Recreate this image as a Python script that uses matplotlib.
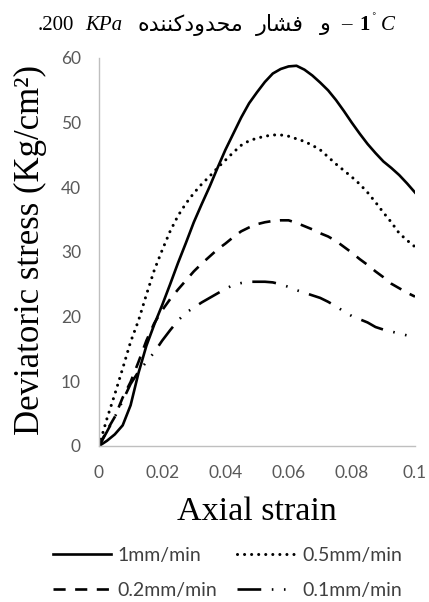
import matplotlib
matplotlib.use("Agg")
import matplotlib.pyplot as plt

# ── Data ─────────────────────────────────────────────────────────────
strain = [0, 0.0025, 0.005, 0.0075, 0.01, 0.0125, 0.015, 0.0175, 0.02, 0.0225,
          0.025, 0.0275, 0.03, 0.0325, 0.035, 0.0375, 0.04, 0.0425, 0.045, 0.0475,
          0.05, 0.0525, 0.055, 0.0575, 0.06, 0.0625, 0.065, 0.0675, 0.07, 0.0725,
          0.075, 0.0775, 0.08, 0.0825, 0.085, 0.0875, 0.09, 0.0925, 0.095, 0.0975, 0.1]

stress_1mm = [0, 0.8, 1.8, 3.2, 6.3, 11.3, 15.5, 18.8, 21.8, 25,
              28.3, 31.4, 34.6, 37.4, 40.1, 43, 45.8, 48.3, 50.8, 53,
              54.7, 56.3, 57.6, 58.3, 58.7, 58.8, 58.2, 57.3, 56.2, 55,
              53.5, 51.8, 50, 48.3, 46.7, 45.3, 44, 43, 41.9, 40.6, 39.2]
stress_05mm = [0, 4.2, 8, 12, 16.1, 19.4, 23.4, 27.2, 30.3, 33.2,
               35.6, 37.5, 39.1, 40.5, 41.7, 43, 44.2, 45.4, 46.5, 47.2,
               47.6, 47.9, 48.1, 48.1, 47.9, 47.5, 47.1, 46.5, 45.8, 44.7,
               43.6, 42.6, 41.6, 40.5, 39.2, 37.7, 36.1, 34.6, 32.9, 31.8, 30.8]
stress_02mm = [0, 2.4, 4.5, 7.5, 9.9, 13, 16.3, 19, 21, 22.7,
               24.2, 25.6, 27, 28.2, 29.3, 30.4, 31.3, 32.3, 33.2, 33.8,
               34.3, 34.6, 34.8, 34.9, 34.9, 34.5, 34, 33.5, 32.9, 32.4,
               31.7, 30.8, 29.9, 28.9, 28, 27, 26.1, 25.1, 24.4, 23.7, 23.1]
stress_01mm = [0, 2.2, 4.5, 7, 9.6, 11.5, 13, 14.5, 16.3, 17.9,
               19.4, 20.6, 21.4, 22.2, 22.9, 23.6, 24.3, 24.9, 25.2, 25.4,
               25.4, 25.4, 25.3, 25, 24.6, 24.1, 23.7, 23.3, 22.9, 22.3,
               21.6, 20.8, 20.1, 19.6, 19.1, 18.4, 18, 17.7, 17.4, 17.1, 16.8]

series_labels = ["1mm/min", "0.5mm/min", "0.2mm/min", "0.1mm/min"]

xticks = [0, 0.02, 0.04, 0.06, 0.08, 0.1]
xtick_labels = ["0", "0.02", "0.04", "0.06", "0.08", "0.1"]
yticks = [0, 10, 20, 30, 40, 50, 60]

# Persian caption words (logical order), shaped with presentation forms
caption_words = ["\uFEED",
                 "\uFED3\uFEB8\uFE8E\uFEAD",
                 "\uFEE3\uFEA4\uFEAA\uFEED\uFEA9\uFB90\uFEE8\uFEE8\uFEAA\uFEE9"]

SERIF = "Liberation Serif"
SANS = "Lato"

# ── Figure ───────────────────────────────────────────────────────────
fig = plt.figure(figsize=(4.29, 6.02), dpi=100)
fig.patch.set_facecolor("white")
ax = fig.add_axes([99 / 429, 156 / 602, 316 / 429, 388 / 602])

l1, = ax.plot(strain, stress_1mm, color="black", lw=1.9, label=series_labels[0])
l2, = ax.plot(strain, stress_05mm, color="black", lw=2.2, label=series_labels[1],
              dashes=(0.01, 2.3), dash_capstyle="round")
l3, = ax.plot(strain, stress_02mm, color="black", lw=1.9, label=series_labels[2],
              dashes=(4.6, 3.6))
l4, = ax.plot(strain, stress_01mm, color="black", lw=1.9, label=series_labels[3],
              dashes=(9, 4, 0.6, 4, 0.6, 4))

ax.set_xlim(0, 0.1)
ax.set_ylim(0, 60)
ax.set_xticks(xticks)
ax.set_xticklabels(xtick_labels)
ax.set_yticks(yticks)
ax.tick_params(axis="y", length=0, labelsize=12.5, labelcolor="#595959", pad=13)
ax.tick_params(axis="x", length=0, labelsize=12.5, labelcolor="#595959", pad=14)
for lab in ax.get_xticklabels() + ax.get_yticklabels():
    lab.set_family(SANS)
for s in ("top", "right"):
    ax.spines[s].set_visible(False)
for s in ("left", "bottom"):
    ax.spines[s].set_color("#bfbfbf")
    ax.spines[s].set_linewidth(1.0)

ax.set_xlabel("Axial strain", family=SERIF, fontsize=24.5)
ax.xaxis.set_label_coords(0.5, -(512 - 446) / 388)
ax.xaxis.label.set_va("center")
ax.set_ylabel("Deviatoric stress (Kg/cm\u00b2)", family=SERIF, fontsize=25)
ax.yaxis.set_label_coords(-(99 - 30) / 316, 0.505)
ax.yaxis.label.set_va("center")

# caption pieces (visual left-to-right)
cy = 1 - 25 / 602
fig.text(38 / 429, cy, ".200", family=SERIF, fontsize=15, ha="left", va="center")
fig.text(85 / 429, cy, "KPa", family=SERIF, fontsize=15, style="italic",
         ha="left", va="center")
for word, xc in zip(caption_words, [325, 280, 190]):
    fig.text(xc / 429, cy, word[::-1], family=["DejaVu Sans"], fontsize=16,
             ha="center", va="center")
fig.text(346 / 429, cy, "\u2013", family=SERIF, fontsize=15, ha="center", va="center")
fig.text(359 / 429, cy, "1", family=SERIF, fontsize=15, weight="bold",
         ha="left", va="center")
fig.text(371 / 429, 1 - 20 / 602, "\u02da", family=SERIF, fontsize=10,
         ha="left", va="center")
fig.text(381 / 429, cy, "C", family=SERIF, fontsize=15, style="italic",
         ha="left", va="center")

leg = fig.legend([l1, l3, l2, l4], [series_labels[0], series_labels[2],
                                    series_labels[1], series_labels[3]],
                 loc="center", bbox_to_anchor=(0.53, 1 - 573 / 602), ncol=2,
                 frameon=False, prop={"family": SANS, "size": 14},
                 handlelength=3.0, columnspacing=1.0, handletextpad=0.35,
                 labelspacing=0.95, labelcolor="#404040")

fig.savefig("out.png", dpi=100, facecolor="white")
